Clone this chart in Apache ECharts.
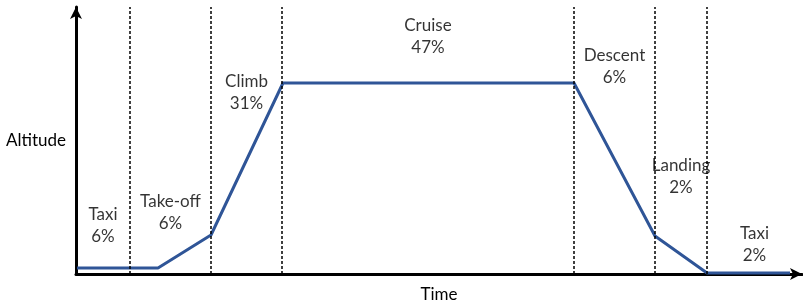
<!DOCTYPE html>
<html>
<head>
<meta charset="utf-8">
<script src="https://cdn.jsdelivr.net/npm/echarts@6/dist/echarts.min.js"></script>
<style>html,body{margin:0;padding:0;background:#fff}#c{width:803px;height:301px}</style>
</head>
<body>
<div id="c"></div>
<script>
// Flight profile (time units, altitude units)
const profileTime = [1, 82, 135, 207, 498, 579, 631, 714];
const profileAlt  = [6, 6, 39, 191, 191, 38, 1, 1];
// Phase boundaries (time)
const phaseBounds = [0, 54, 135, 206, 498, 579, 631, 726];
const phaseNames = ['Taxi', 'Take-off', 'Climb', 'Cruise', 'Descent', 'Landing', 'Taxi'];
const phaseShare = ['6%', '6%', '31%', '47%', '6%', '2%', '2%'];
const labelAlt = [48, 61.5, 181, 237, 207, 97.5, 29];

const FONT = 'Lato';
const FS = 17;
const chart = echarts.init(document.getElementById('c'));
const lineData = profileTime.map((t, i) => [t, profileAlt[i]]);
const dividers = phaseBounds.slice(1, -1).map(v => ({ xAxis: v }));
const labelData = phaseNames.map((n, i) => ({
  value: [(phaseBounds[i] + phaseBounds[i + 1]) / 2, labelAlt[i]],
  name: n + '\n' + phaseShare[i]
}));

chart.setOption({
  animation: false,
  grid: { left: 76, right: 1, top: 7, bottom: 27, containLabel: false, outerBoundsMode: 'none' },
  xAxis: {
    type: 'value', min: 0, max: 726,
    name: 'Time', nameLocation: 'middle', nameGap: 12,
    nameTextStyle: { fontFamily: FONT, fontSize: FS, color: '#000' },
    axisLine: { show: true, lineStyle: { color: '#000', width: 3 }, symbol: ['none', 'arrow'], symbolSize: [9, 12] },
    axisTick: { show: false }, axisLabel: { show: false }, splitLine: { show: false }
  },
  yAxis: {
    type: 'value', min: 0, max: 267,
    name: 'Altitude', nameLocation: 'middle', nameGap: 10, nameRotate: 0,
    nameTextStyle: { fontFamily: FONT, fontSize: FS, color: '#000', align: 'right' },
    axisLine: { show: true, lineStyle: { color: '#000', width: 3 }, symbol: ['none', 'arrow'], symbolSize: [9, 12] },
    axisTick: { show: false }, axisLabel: { show: false }, splitLine: { show: false }
  },
  series: [
    {
      type: 'line', data: lineData, symbol: 'none',
      lineStyle: { color: '#2F5597', width: 3 },
      markLine: {
        silent: true, symbol: 'none', label: { show: false },
        lineStyle: { color: '#000', type: [3, 2], width: 1.5 },
        data: dividers
      },
      z: 3
    },
    {
      type: 'scatter', data: labelData, symbolSize: 0,
      label: {
        show: true, position: 'inside', formatter: p => p.name,
        fontFamily: FONT, fontSize: FS, color: '#000', lineHeight: 22, align: 'center'
      },
      z: 4
    }
  ]
});
</script>
</body>
</html>
